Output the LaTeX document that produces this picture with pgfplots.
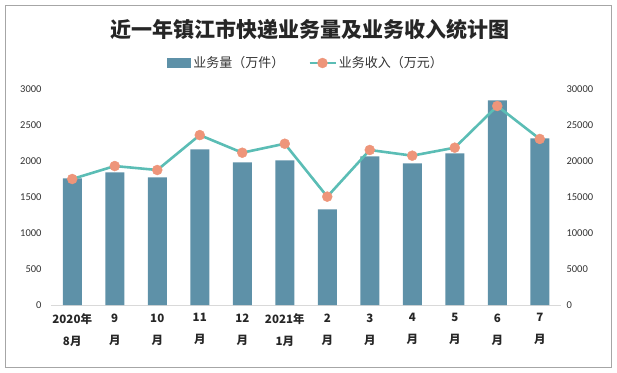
\documentclass[border=0pt]{standalone}
\usepackage{pgfplots}
\pgfplotsset{compat=1.18}
\usepackage{fontspec}
\setmainfont{Carlito}
\newfontfamily\cjk{Noto Sans CJK SC}
\definecolor{barcol}{HTML}{5E91A8}
\definecolor{linecol}{HTML}{5BBDB5}
\definecolor{markcol}{HTML}{EE957A}
\definecolor{axcol}{HTML}{D9D9D9}
\begin{document}
\begin{tikzpicture}[x=1pt,y=1pt]
\useasboundingbox (0,0) rectangle (617,372);
\draw[gray!70, line width=0.8pt] (5,5) rectangle (611,367);
\node[font=\cjk\bfseries\fontsize{21}{24}\selectfont, text=black!85] at (310,342) {近一年镇江市快递业务量及业务收入统计图};
\begin{axis}[
  at={(51pt,67pt)}, anchor=south west, scale only axis,
  width=510pt, height=216pt,
  xmin=-0.5, xmax=11.5, ymin=0, ymax=3000,
  axis y line*=left, axis x line*=bottom,
  y axis line style={draw=none},
  x axis line style={draw=axcol, line width=0.8pt, -},
  major tick length=0pt,
  ytick={0,500,1000,1500,2000,2500,3000},
  yticklabel style={font=\fontsize{10.5}{12}\selectfont, text=black!80, xshift=-6pt},
  /pgf/number format/assume math mode=true,
  /pgf/number format/1000 sep={},
  xtick={0,...,11},
  xticklabels={{2020年\\8月},{9\\月},{10\\月},{11\\月},{12\\月},{2021年\\1月},{2\\月},{3\\月},{4\\月},{5\\月},{6\\月},{7\\月}},
  xticklabel style={font=\cjk\bfseries\fontsize{11.5}{22}\selectfont, align=center, yshift=-5pt, text=black!85},
  legend columns=2,
  legend style={at={(0.5,1)}, anchor=center, yshift=26pt, draw=none, fill=none,
    font=\cjk\fontsize{13}{15}\selectfont, text=black!80,
    /tikz/every even column/.append style={column sep=22pt}},
  clip=false,
]
\addplot[ybar, bar width=19pt, fill=barcol, draw=none,
  legend image code/.code={\fill[barcol] (0pt,-5pt) rectangle (24pt,5pt);}]
  coordinates {(0,1760) (1,1843) (2,1773) (3,2162) (4,1981) (5,2009) (6,1329) (7,2065) (8,1968) (9,2107) (10,2843) (11,2315)};
\addlegendentry{业务量（万件）}
\addlegendimage{legend image code/.code={\draw[linecol, line width=2.5pt] (0pt,0pt)--(26pt,0pt); \fill[markcol] (13pt,0pt) circle (5pt);}}
\addlegendentry{业务收入（万元）}
\end{axis}
\begin{axis}[
  at={(51pt,67pt)}, anchor=south west, scale only axis,
  width=510pt, height=216pt,
  xmin=-0.5, xmax=11.5, ymin=0, ymax=30000,
  axis y line*=right, axis x line=none,
  y axis line style={draw=none},
  major tick length=0pt,
  ytick={0,5000,10000,15000,20000,25000,30000},
  scaled y ticks=false,
  yticklabel style={font=\fontsize{10.5}{12}\selectfont, text=black!80, xshift=2pt},
  /pgf/number format/assume math mode=true,
  /pgf/number format/1000 sep={},
  clip=false,
]
\addplot[linecol, line width=2.6pt, mark=*, mark size=5pt,
  mark options={fill=markcol, draw=markcol, line width=0.4pt, solid}]
  coordinates {(0,17500) (1,19300) (2,18750) (3,23600) (4,21150) (5,22400) (6,15050) (7,21530) (8,20740) (9,21850) (10,27640) (11,23060)};
\end{axis}
\end{tikzpicture}
\end{document}
